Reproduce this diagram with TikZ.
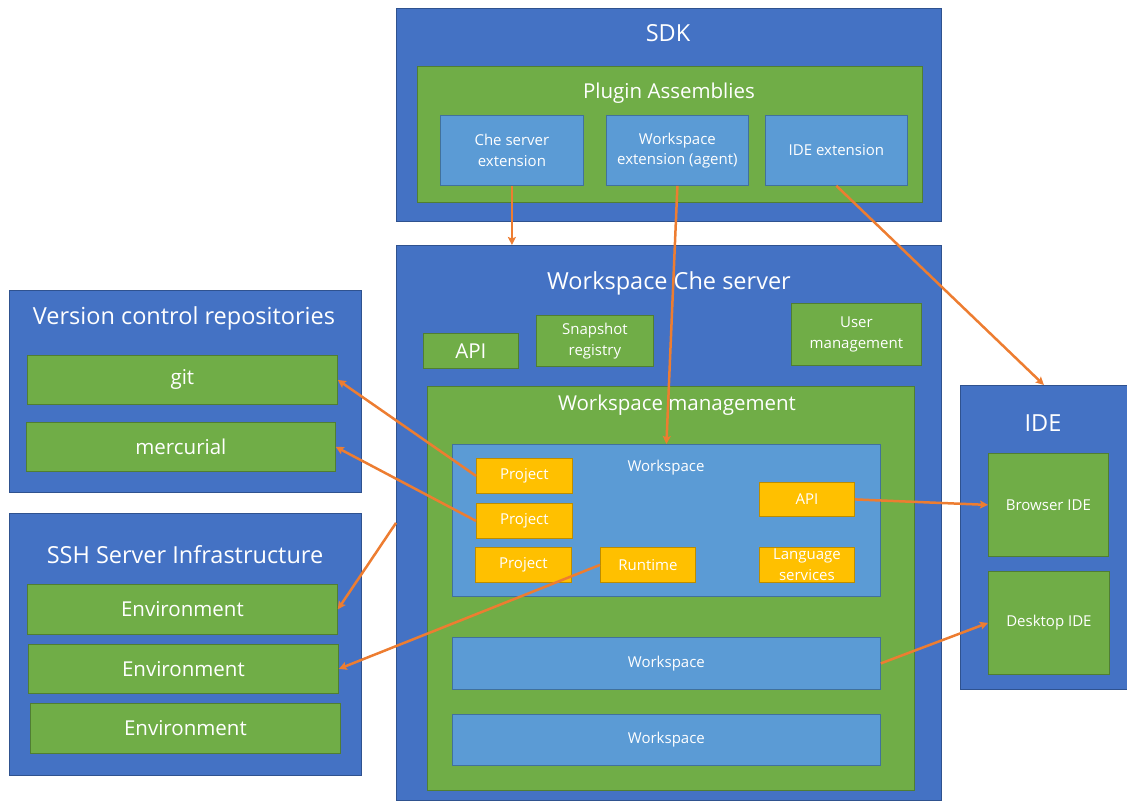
\documentclass[tikz,border=0pt]{standalone}
\usepackage{fontspec}
\setmainfont{Open Sans}
\usetikzlibrary{arrows.meta}
\definecolor{chedark}{RGB}{68,114,196}
\definecolor{chedarkline}{RGB}{47,82,143}
\definecolor{chegreen}{RGB}{112,173,71}
\definecolor{chegreenline}{RGB}{80,126,50}
\definecolor{chelight}{RGB}{91,155,213}
\definecolor{chelightline}{RGB}{65,113,156}
\definecolor{cheorange}{RGB}{255,192,0}
\definecolor{cheorangeline}{RGB}{188,140,0}
\definecolor{chearrow}{RGB}{237,125,49}

\begin{document}
\begin{tikzpicture}[x=1pt, y=-1pt,
        base/.style={rectangle, anchor=north west, inner sep=0pt, text=white, align=center, line width=0.8pt},
        outer/.style={base, draw=chedarkline, fill=chedark},
        grn/.style={base, draw=chegreenline, fill=chegreen},
        lite/.style={base, draw=chelightline, fill=chelight},
        orng/.style={base, draw=cheorangeline, fill=cheorange},
        ttl/.style={text=white, inner sep=0pt, align=center},
        big/.style={font=\fontsize{23.5}{28}\selectfont},
        mid/.style={font=\fontsize{20.5}{24}\selectfont},
        sml/.style={font=\fontsize{15}{20.5}\selectfont},
        arr/.style={-{Stealth[length=8pt, width=8pt, inset=1.5pt]}, chearrow, line width=2.5pt}
    ]
        \useasboundingbox (0,0) rectangle (1127,801);

        % SDK
        \node[outer, minimum width=545pt, minimum height=213pt] (sdk) at (396,8) {};
        \node[ttl, big] (sdk title) at (668,33) {SDK};
        \node[grn, minimum width=505pt, minimum height=136pt] (plugins) at (417,66) {};
        \node[ttl, mid] (plugins title) at (669,93) {Plugin Assemblies};
        \node[lite, sml, minimum width=143pt, minimum height=70pt] (cheext) at (440,115) {Che server\\extension};
        \node[lite, sml, minimum width=142pt, minimum height=70pt] (wsext) at (606,115) {Workspace\\extension (agent)};
        \node[lite, sml, minimum width=142pt, minimum height=70pt] (ideext) at (765,115) {IDE extension};

        % Che server
        \node[outer, minimum width=545pt, minimum height=555pt] (server) at (396,245) {};
        \node[ttl, big] (server title) at (669,283) {Workspace Che server};
        \node[grn, mid, minimum width=95pt, minimum height=35pt] (api) at (423,333) {API};
        \node[grn, sml, minimum width=117pt, minimum height=51pt] (snap) at (536,315) {Snapshot\\registry};
        \node[grn, sml, minimum width=130pt, minimum height=62pt] (users) at (791,303) {User\\management};
        \node[grn, minimum width=487pt, minimum height=404pt] (wsmgmt) at (427,386) {};
        \node[ttl, mid] (wsmgmt title) at (677,405) {Workspace management};
        \node[lite, minimum width=428pt, minimum height=152pt] (ws1) at (452,444) {};
        \node[ttl, sml] (ws1 title) at (666,468) {Workspace};
        \node[orng, sml, minimum width=96pt, minimum height=35pt] (proj1) at (476,458) {Project};
        \node[orng, sml, minimum width=96pt, minimum height=35pt] (proj2) at (476,503) {Project};
        \node[orng, sml, minimum width=96pt, minimum height=35pt] (proj3) at (475,547) {Project};
        \node[orng, sml, minimum width=95pt, minimum height=35pt] (runtime) at (600,547) {Runtime};
        \node[orng, sml, minimum width=95pt, minimum height=34pt] (wsapi) at (759,482) {API};
        \node[orng, sml, minimum width=95pt, minimum height=35pt] (lang) at (759,547) {Language\\services};
        \node[lite, sml, minimum width=428pt, minimum height=52pt] (ws2) at (452,637) {Workspace};
        \node[lite, sml, minimum width=428pt, minimum height=51pt] (ws3) at (452,714) {Workspace};

        % version control
        \node[outer, minimum width=352pt, minimum height=202pt] (vcs) at (9,290) {};
        \node[ttl, big] (vcs title) at (184,318) {Version control repositories};
        \node[grn, mid, minimum width=310pt, minimum height=49pt] (git) at (27,355) {git};
        \node[grn, mid, minimum width=309pt, minimum height=49pt] (hg) at (26,422) {mercurial};

        % ssh
        \node[outer, minimum width=352pt, minimum height=262pt] (ssh) at (9,513) {};
        \node[ttl, big] (ssh title) at (185,555) {SSH Server Infrastructure};
        \node[grn, mid, minimum width=310pt, minimum height=50pt] (env1) at (27,584) {Environment};
        \node[grn, mid, minimum width=310pt, minimum height=49pt] (env2) at (28,644) {Environment};
        \node[grn, mid, minimum width=310pt, minimum height=50pt] (env3) at (30,703) {Environment};

        % IDE
        \node[outer, minimum width=167pt, minimum height=304pt] (ide) at (960,385) {};
        \node[ttl, big] (ide title) at (1043,423) {IDE};
        \node[grn, sml, minimum width=120pt, minimum height=103pt] (browser) at (988,453) {Browser IDE};
        \node[grn, sml, minimum width=121pt, minimum height=103pt] (desktop) at (988,571) {Desktop IDE};

        \draw[arr] (cheext.south) -- (cheext.south |- server.north);
        \draw[arr] (wsext.south) -- (ws1.north);
        \draw[arr] (ideext.south) -- (ide.north);
        \draw[arr] (proj1.west) -- (git.east);
        \draw[arr] (proj2.west) -- (hg.east);
        \draw[arr] (server.west) -- (env1.east);
        \draw[arr] (runtime.west) -- (env2.east);
        \draw[arr] (wsapi.east) -- (browser.west);
        \draw[arr] (ws2.east) -- (desktop.west);
    \end{tikzpicture}
\end{document}
